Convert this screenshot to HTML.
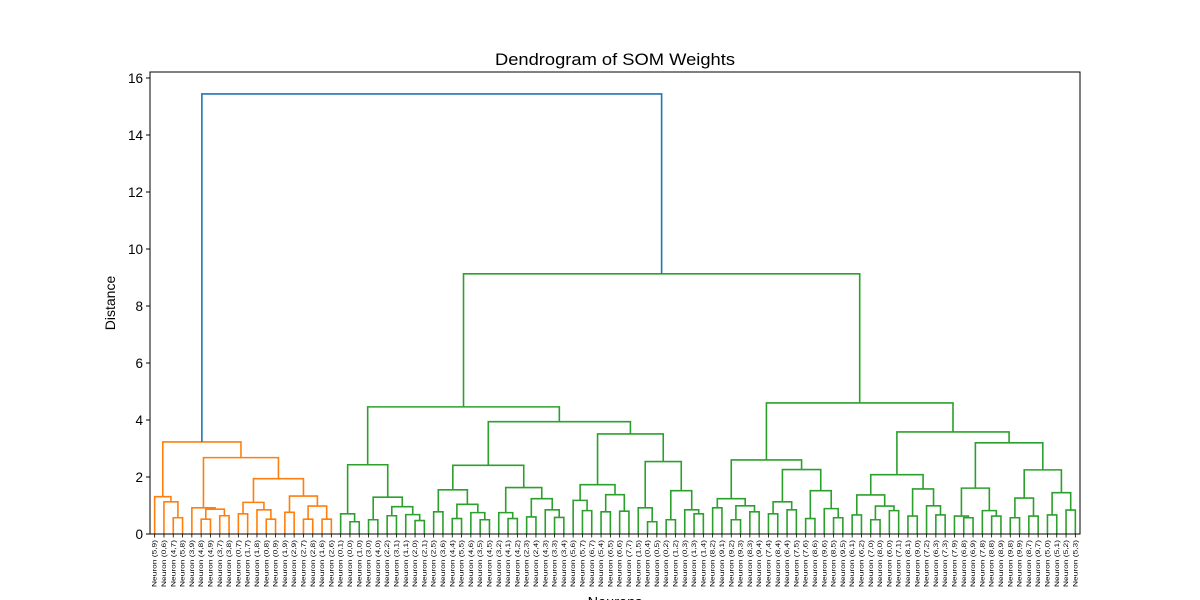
<!DOCTYPE html>
<html><head><meta charset="utf-8"><style>
html,body{margin:0;padding:0;background:#fff;}
svg{display:block;font-family:"Liberation Sans","DejaVu Sans",sans-serif;}
</style></head><body>
<svg id="chart" width="1200" height="600" viewBox="0 0 1200 600" xmlns="http://www.w3.org/2000/svg">
<rect x="0" y="0" width="1200" height="600" fill="#fff"/>
<text x="615" y="65" text-anchor="middle" font-size="17" fill="#000" textLength="240" lengthAdjust="spacingAndGlyphs">Dendrogram of SOM Weights</text>
<text transform="translate(115,303) rotate(-90)" text-anchor="middle" font-size="14" fill="#000">Distance</text>
<text x="615" y="607" text-anchor="middle" font-size="14.5" fill="#000">Neurons</text>
<g id="links"></g>
<g id="yaxis"></g>
<g id="xaxis"></g>
<rect x="150" y="72" width="930" height="462" fill="none" stroke="#000" stroke-width="1"/>
</svg>
<script>
const leafLabels = ["(5,9)","(0,6)","(4,7)","(5,8)","(3,9)","(4,8)","(4,9)","(3,7)","(3,8)","(0,7)","(1,7)","(1,8)","(0,8)","(0,9)","(1,9)","(2,9)","(2,7)","(2,8)","(1,6)","(2,6)","(0,1)","(0,0)","(1,0)","(3,0)","(4,0)","(2,2)","(3,1)","(1,1)","(2,0)","(2,1)","(2,5)","(3,6)","(4,4)","(5,5)","(4,6)","(3,5)","(4,5)","(3,2)","(4,1)","(4,2)","(2,3)","(2,4)","(4,3)","(3,3)","(3,4)","(5,6)","(5,7)","(6,7)","(5,4)","(6,5)","(6,6)","(7,7)","(1,5)","(0,4)","(0,5)","(0,2)","(1,2)","(0,3)","(1,3)","(1,4)","(8,2)","(9,1)","(9,2)","(9,3)","(8,3)","(9,4)","(7,4)","(8,4)","(6,4)","(7,5)","(7,6)","(8,6)","(9,6)","(8,5)","(9,5)","(6,1)","(6,2)","(7,0)","(8,0)","(6,0)","(7,1)","(8,1)","(9,0)","(7,2)","(6,3)","(7,3)","(7,9)","(6,8)","(6,9)","(7,8)","(8,8)","(8,9)","(9,8)","(9,9)","(8,7)","(9,7)","(5,0)","(5,1)","(5,2)","(5,3)"];
const yTicks = [0,2,4,6,8,10,12,14,16];
const orangeTree = [[0,[1,[2,3,0.57],1.13],1.31],[[4,[[5,6,0.52],[7,8,0.64],0.87],0.92],[[[9,10,0.71],[11,[12,13,0.52],0.85],1.11],[[14,15,0.76],[[16,17,0.52],[18,19,0.52],0.98],1.33],1.94],2.68],3.23];
const treeA = [[20,[21,22,0.43],0.71],[[23,24,0.5],[[25,26,0.64],[27,[28,29,0.47],0.68],0.96],1.29],2.43];
const treeB2 = [[[30,31,0.78],[[32,33,0.54],[34,[35,36,0.5],0.75],1.04],1.55],[[37,[38,39,0.54],0.75],[[40,41,0.6],[42,[43,44,0.58],0.85],1.24],1.63],2.41];
const treeB3 = [[[45,[46,47,0.82],1.18],[[48,49,0.78],[50,51,0.8],1.38],1.73],[[52,[53,54,0.43],0.92],[[55,56,0.5],[57,[58,59,0.71],0.85],1.52],2.54],3.51];
const treeD = [[[60,61,0.92],[[62,63,0.5],[64,65,0.78],0.99],1.24],[[[66,67,0.71],[68,69,0.85],1.13],[[70,71,0.54],[72,[73,74,0.57],0.89],1.52],2.26],2.6];
const treeE = [[[[75,76,0.67],[[77,78,0.5],[79,80,0.82],0.98],1.37],[[81,82,0.63],[83,[84,85,0.67],0.99],1.58],2.08],[[[86,[87,88,0.57],0.63],[89,[90,91,0.63],0.82],1.61],[[[92,93,0.57],[94,95,0.63],1.26],[[96,97,0.67],[98,99,0.84],1.45],2.25],3.2],3.58];
const rootTree = [orangeTree,[[treeA,[treeB2,treeB3,3.94],4.46],[treeD,treeE,4.6],9.13],15.44];
const colorThreshold = 10.8;

const NS = "http://www.w3.org/2000/svg";
const X0 = 150, X1 = 1080, Y0 = 534, YTOP = 72, YMAX = 16.21;
const step = (X1 - X0) / leafLabels.length;
const xs = i => X0 + step * (i + 0.5);
const ys = v => Y0 - (v / YMAX) * (Y0 - YTOP);
const links = document.getElementById('links');

function firstLeaf(n){ return typeof n === 'number' ? n : firstLeaf(n[0]); }
function draw(n){
  if (typeof n === 'number') return {x: xs(n), h: 0};
  const a = draw(n[0]), b = draw(n[1]), h = n[2];
  let col = h > colorThreshold ? '#1f77b4' : (firstLeaf(n) < 20 ? '#ff7f0e' : '#2ca02c');
  const p = document.createElementNS(NS, 'path');
  p.setAttribute('d', `M${a.x},${ys(a.h)}V${ys(h)}H${b.x}V${ys(b.h)}`);
  p.setAttribute('fill', 'none');
  p.setAttribute('stroke', col);
  p.setAttribute('stroke-width', '1.6');
  
  
  links.appendChild(p);
  return {x: (a.x + b.x) / 2, h: h};
}
draw(rootTree);

const yaxis = document.getElementById('yaxis');
yTicks.forEach(v => {
  const y = ys(v);
  const t = document.createElementNS(NS, 'line');
  t.setAttribute('x1', X0 - 4); t.setAttribute('x2', X0); t.setAttribute('y1', y); t.setAttribute('y2', y);
  t.setAttribute('stroke', '#000');
  
  
  yaxis.appendChild(t);
  const l = document.createElementNS(NS, 'text');
  l.setAttribute('x', X0 - 7); l.setAttribute('y', y + 5);
  l.setAttribute('text-anchor', 'end'); l.setAttribute('font-size', '13.5');
  l.textContent = v;
  
  
  yaxis.appendChild(l);
});

const xaxis = document.getElementById('xaxis');
leafLabels.forEach((s, i) => {
  const x = xs(i);
  const t = document.createElementNS(NS, 'line');
  t.setAttribute('x1', x); t.setAttribute('x2', x); t.setAttribute('y1', Y0); t.setAttribute('y2', Y0 + 3.5);
  t.setAttribute('stroke', '#000'); t.setAttribute('stroke-width', '0.8');
  
  
  xaxis.appendChild(t);
  const l = document.createElementNS(NS, 'text');
  l.setAttribute('transform', `translate(${x + 2},${Y0 + 6}) rotate(-90)`);
  l.setAttribute('text-anchor', 'end'); l.setAttribute('font-size', '6.5');
  l.setAttribute('textLength', '47');
  l.setAttribute('lengthAdjust', 'spacingAndGlyphs');
  l.setAttribute('fill', '#000');
  l.textContent = 'Neuron ' + s;
  
  
  xaxis.appendChild(l);
});
</script>
</body></html>
